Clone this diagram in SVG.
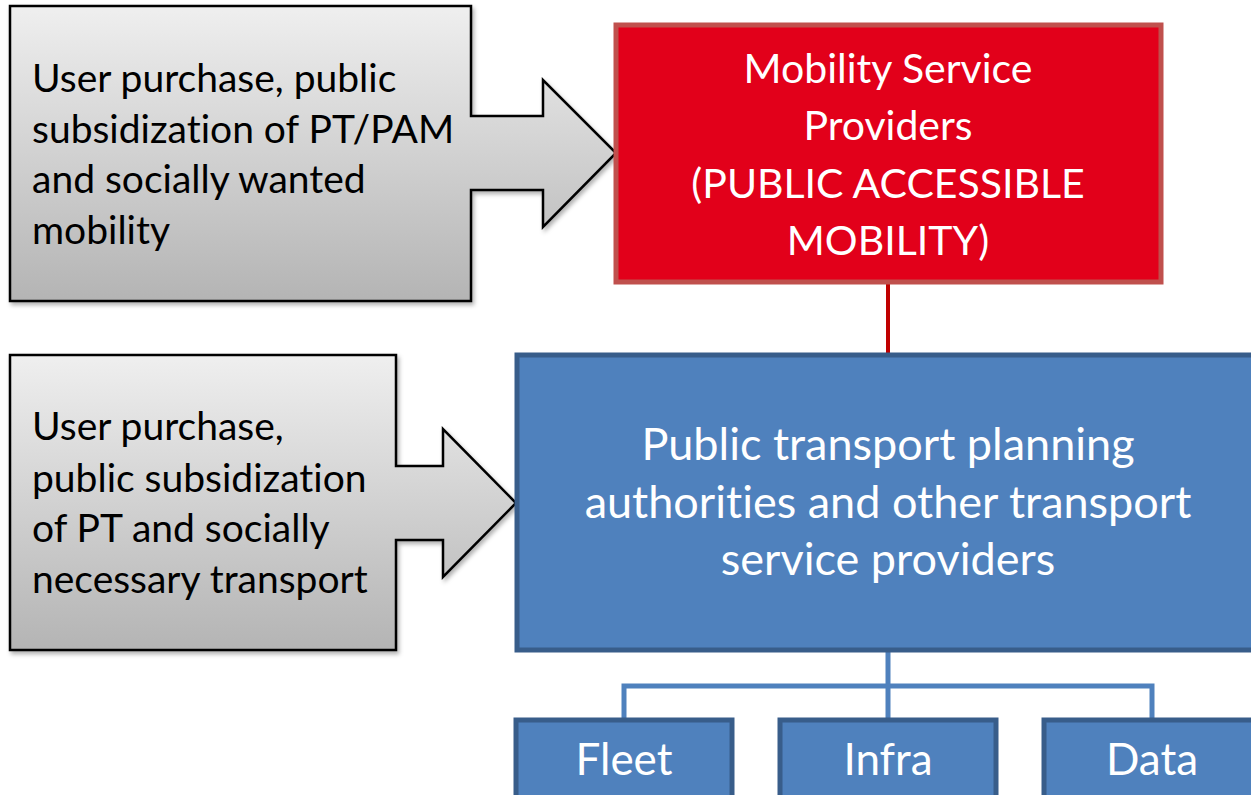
<svg xmlns="http://www.w3.org/2000/svg" width="1251" height="795" viewBox="0 0 1251 795">
<defs>
<linearGradient id="gray" x1="0" y1="0" x2="0" y2="1">
<stop offset="0" stop-color="#efefef"/>
<stop offset="1" stop-color="#b4b4b4"/>
</linearGradient>
<filter id="sh" x="-5%" y="-5%" width="115%" height="115%">
<feDropShadow dx="2" dy="3" stdDeviation="2" flood-color="#000" flood-opacity="0.3"/>
</filter>
<style>
text{font-variant-ligatures:none}
.callout{fill:url(#gray);stroke:#000;stroke-width:2.5;filter:url(#sh)}
.ct{font-family:Lato,"Open Sans",sans-serif;font-size:39px;fill:#000}
.red{fill:#e2001a;stroke:#c0504d;stroke-width:5}
.blue{fill:#4f81bd;stroke:#385d8a;stroke-width:5}
.wt{font-family:Lato,"Open Sans",sans-serif;fill:#fff;text-anchor:middle}
.conn{fill:none;stroke:#4f81bd;stroke-width:5}
</style>
</defs>
<rect width="1251" height="795" fill="#fff"/>

<g id="connectors">
<line x1="888" y1="283" x2="888" y2="369" stroke="#c00000" stroke-width="4"/>
<line class="conn" x1="888" y1="651" x2="888" y2="720"/>
<polyline class="conn" points="624,720 624,686 1152,686 1152,720"/>
</g>

<g id="node-user-pam">
<path class="callout" d="M10,6 H471 V116 H543 V80 L616,153 L543,227 V190 H471 V301 H10 Z"/>
<text class="ct" x="32" y="92">User purchase, public</text>
<text class="ct" x="32" y="143">subsidization of PT/PAM</text>
<text class="ct" x="32" y="193">and socially wanted</text>
<text class="ct" x="32" y="244">mobility</text>
</g>

<g id="node-user-pt">
<path class="callout" d="M10,355 H396 V466 H443 V429 L516,503 L443,577 V540 H396 V650 H10 Z"/>
<text class="ct" x="32" y="440">User purchase,</text>
<text class="ct" x="32" y="492">public subsidization</text>
<text class="ct" x="32" y="542">of PT and socially</text>
<text class="ct" x="32" y="593">necessary transport</text>
</g>

<g id="node-msp">
<rect class="red" x="616" y="25" width="545" height="257"/>
<text class="wt" font-size="41" x="888" y="83">Mobility Service</text>
<text class="wt" font-size="41" x="888" y="140">Providers</text>
<text class="wt" font-size="41" x="888" y="198">(PUBLIC ACCESSIBLE</text>
<text class="wt" font-size="41" x="888" y="255">MOBILITY)</text>
</g>

<g id="node-ptpa">
<rect class="blue" x="517" y="355" width="740" height="295"/>
<text class="wt" font-size="45" x="888" y="460">Public transport planning</text>
<text class="wt" font-size="45" x="888" y="518">authorities and other transport</text>
<text class="wt" font-size="45" x="888" y="575">service providers</text>
</g>

<g id="node-fleet">
<rect class="blue" x="516" y="720" width="216" height="90"/>
<text class="wt" font-size="44" x="624" y="775">Fleet</text>
</g>
<g id="node-infra">
<rect class="blue" x="780" y="720" width="216" height="90"/>
<text class="wt" font-size="44" x="888" y="775">Infra</text>
</g>
<g id="node-data">
<rect class="blue" x="1044" y="720" width="216" height="90"/>
<text class="wt" font-size="44" x="1152" y="775">Data</text>
</g>
</svg>
